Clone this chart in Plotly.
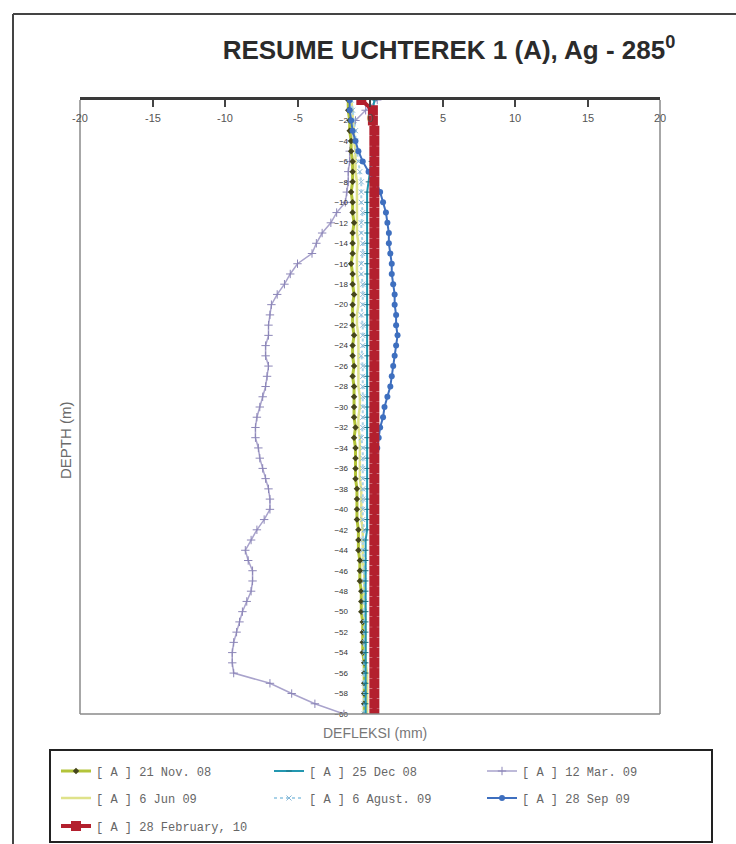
import plotly.graph_objects as go

depth = [0, -1, -2, -3, -4, -5, -6, -7, -8, -9,
         -10, -11, -12, -13, -14, -15, -16, -17, -18, -19,
         -20, -21, -22, -23, -24, -25, -26, -27, -28, -29,
         -30, -31, -32, -33, -34, -35, -36, -37, -38, -39,
         -40, -41, -42, -43, -44, -45, -46, -47, -48, -49,
         -50, -51, -52, -53, -54, -55, -56, -57, -58, -59, -60]

nov08 = [-1.5, -1.5, -1.4, -1.4, -1.3, -1.3, -1.2, -1.2, -1.2, -1.3,
         -1.2, -1.2, -1.1, -1.2, -1.2, -1.2, -1.3, -1.2, -1.2, -1.1,
         -1.2, -1.2, -1.2, -1.1, -1.2, -1.2, -1.1, -1.2, -1.1, -1.1,
         -1.1, -1.1, -1.0, -1.1, -1.0, -1.0, -1.0, -1.0, -0.9, -0.9,
         -0.9, -0.9, -0.8, -0.8, -0.8, -0.7, -0.7, -0.7, -0.6, -0.6,
         -0.6, -0.5, -0.5, -0.5, -0.5, -0.4, -0.4, -0.4, -0.4, -0.4, -0.4]

dec08 = [0.3, 0.2, 0.2, 0.2, 0.2, 0.2, 0.1, 0.0, -0.1, -0.2,
         -0.2, -0.2, -0.2, -0.2, -0.2, -0.2, -0.2, -0.2, -0.2, -0.2,
         -0.2, -0.2, -0.2, -0.2, -0.2, -0.2, -0.2, -0.2, -0.2, -0.2,
         -0.2, -0.2, -0.2, -0.2, -0.2, -0.2, -0.2, -0.2, -0.2, -0.2,
         -0.2, -0.2, -0.2, -0.3, -0.3, -0.3, -0.3, -0.3, -0.3, -0.3,
         -0.3, -0.3, -0.3, -0.3, -0.3, -0.3, -0.3, -0.3, -0.3, -0.3, -0.3]

mar09 = [0.5, -0.3, -1.0, -1.2, -1.3, -1.4, -1.4, -1.5, -1.5, -1.6,
         -1.7, -2.3, -2.7, -3.3, -3.7, -4.0, -5.0, -5.5, -5.9, -6.4,
         -6.8, -6.9, -7.0, -7.0, -7.2, -7.2, -7.0, -7.1, -7.2, -7.4,
         -7.6, -7.8, -7.9, -7.9, -7.7, -7.6, -7.4, -7.2, -7.0, -6.9,
         -6.9, -7.3, -7.8, -8.2, -8.6, -8.4, -8.1, -8.1, -8.2, -8.5,
         -8.8, -9.0, -9.2, -9.4, -9.5, -9.5, -9.4, -6.9, -5.4, -3.8, -1.8]

jun09 = [-1.3, -1.2, -1.2, -1.1, -1.1, -1.0, -1.0, -1.0, -0.9, -0.9,
         -0.9, -0.9, -0.9, -0.9, -0.8, -0.9, -0.9, -0.9, -0.8, -0.8,
         -0.8, -0.9, -0.9, -0.8, -0.8, -0.8, -0.8, -0.8, -0.8, -0.7,
         -0.7, -0.8, -0.8, -0.7, -0.7, -0.7, -0.7, -0.7, -0.6, -0.6,
         -0.6, -0.6, -0.5, -0.5, -0.5, -0.5, -0.4, -0.4, -0.4, -0.4,
         -0.3, -0.3, -0.3, -0.3, -0.3, -0.3, -0.2, -0.2, -0.2, -0.2, -0.2]

aug09 = [-1.3, -1.2, -1.1, -1.0, -1.0, -0.9, -0.8, -0.7, -0.6, -0.6,
         -0.6, -0.5, -0.6, -0.6, -0.5, -0.5, -0.6, -0.6, -0.5, -0.5,
         -0.5, -0.6, -0.5, -0.5, -0.5, -0.6, -0.5, -0.5, -0.5, -0.5,
         -0.5, -0.5, -0.5, -0.6, -0.5, -0.5, -0.5, -0.5, -0.5, -0.5,
         -0.5, -0.5, -0.4, -0.5, -0.5, -0.4, -0.4, -0.4, -0.4, -0.4,
         -0.4, -0.4, -0.4, -0.4, -0.4, -0.4, -0.4, -0.4, -0.4, -0.4, -0.4]

sep09 = [-1.4, -1.4, -1.3, -1.2, -1.0, -0.8, -0.5, -0.1, 0.4, 0.7,
         0.9, 1.1, 1.2, 1.3, 1.3, 1.4, 1.5, 1.5, 1.6, 1.7,
         1.7, 1.8, 1.8, 1.9, 1.8, 1.7, 1.6, 1.5, 1.4, 1.2,
         1.0, 0.9, 0.7, 0.6, 0.5, 0.4, 0.4, 0.4, 0.4, 0.4,
         0.4, 0.4, 0.4, 0.4, 0.4, 0.4, 0.4, 0.4, 0.4, 0.4,
         0.4, 0.4, 0.4, 0.4, 0.4, 0.4, 0.4, 0.4, 0.4, 0.4, 0.4]

feb10 = [-0.6, 0.2, 0.2, 0.3, 0.3, 0.3, 0.3, 0.3, 0.3, 0.3,
         0.3, 0.3, 0.3, 0.3, 0.3, 0.3, 0.3, 0.3, 0.3, 0.3,
         0.3, 0.3, 0.3, 0.3, 0.3, 0.3, 0.3, 0.3, 0.3, 0.3,
         0.3, 0.3, 0.3, 0.3, 0.3, 0.3, 0.3, 0.3, 0.3, 0.3,
         0.3, 0.3, 0.3, 0.3, 0.3, 0.3, 0.3, 0.3, 0.3, 0.3,
         0.3, 0.3, 0.3, 0.3, 0.3, 0.3, 0.3, 0.3, 0.3, 0.3, 0.3]

x_ticks = [-20, -15, -10, -5, 0, 5, 10, 15, 20]
x_tick_labels = ["-20", "-15", "-10", "-5", "0", "5", "10", "15", "20"]
y_ticks = [-2, -4, -6, -8, -10, -12, -14, -16, -18, -20, -22, -24, -26, -28, -30,
           -32, -34, -36, -38, -40, -42, -44, -46, -48, -50, -52, -54, -56, -58, -60]

fig = go.Figure()

# drawing order (z); legend rows/order set with legend + legendrank
fig.add_trace(go.Scatter(x=mar09, y=depth, name="[ A ] 12 Mar. 09", legend="legend", legendrank=3,
                         mode="lines+markers",
                         line=dict(color="#a9a3cc", width=1.5),
                         marker=dict(symbol="cross-thin", size=6,
                                     line=dict(color="#8c86b8", width=1))))
fig.add_trace(go.Scatter(x=jun09, y=depth, name="[ A ] 6 Jun 09", legend="legend2", legendrank=1,
                         mode="lines",
                         line=dict(color="#dfe28a", width=2.5)))
fig.add_trace(go.Scatter(x=nov08, y=depth, name="[ A ] 21 Nov. 08", legend="legend", legendrank=1,
                         mode="lines+markers",
                         line=dict(color="#b3c43a", width=3),
                         marker=dict(symbol="diamond", size=5, color="#45451c")))
fig.add_trace(go.Scatter(x=aug09, y=depth, name="[ A ] 6 Agust. 09", legend="legend2", legendrank=2,
                         mode="lines+markers",
                         line=dict(color="#a9d2e8", width=2, dash="dot"),
                         marker=dict(symbol="x-thin", size=5,
                                     line=dict(color="#86b6d6", width=1))))
fig.add_trace(go.Scatter(x=dec08, y=depth, name="[ A ] 25 Dec 08", legend="legend", legendrank=2,
                         mode="lines+markers",
                         line=dict(color="#2397b0", width=2),
                         marker=dict(symbol="line-ew", size=4,
                                     line=dict(color="#1a6e80", width=1))))
fig.add_trace(go.Scatter(x=sep09, y=depth, name="[ A ] 28 Sep 09", legend="legend2", legendrank=3,
                         mode="lines+markers",
                         line=dict(color="#3e6fbf", width=2),
                         marker=dict(symbol="circle", size=6, color="#3e6fbf")))
fig.add_trace(go.Scatter(x=feb10, y=depth, name="[ A ] 28 February, 10", legend="legend3", legendrank=1,
                         mode="lines+markers",
                         line=dict(color="#b3202e", width=4),
                         marker=dict(symbol="square", size=10, color="#b3202e")))

W, H = 736, 844
L, R, T, B = 80, 76, 100, 130
pw, ph = W - L - R, H - T - B


def px(xp):
    return (xp - L) / pw


def py(yp):
    return (H - B - yp) / ph


def legend_row(yc):
    return dict(orientation="h", x=px(56), y=py(yc), xanchor="left", yanchor="middle",
                xref="paper", yref="paper",
                entrywidth=168, entrywidthmode="pixels",
                font=dict(family="Liberation Mono", size=12, color="#666"),
                bgcolor="rgba(0,0,0,0)", traceorder="normal")


fig.update_layout(
    width=W, height=H,
    margin=dict(l=L, r=R, t=T, b=B, autoexpand=False),
    paper_bgcolor="white", plot_bgcolor="white",
    font=dict(family="Liberation Sans", color="#555"),
    title=dict(text="RESUME UCHTEREK 1 (A), Ag - 285<sup>0</sup>",
               x=449 / W, xanchor="center", xref="container",
               y=1 - 50 / H, yanchor="middle", yref="container",
               font=dict(family="Liberation Sans", size=26, color="#2b2b2b", weight="bold")),
    xaxis=dict(range=[-20, 20], side="top", tickvals=x_ticks, showticklabels=False,
               ticks="inside", ticklen=7, tickwidth=2, tickcolor="#444",
               showline=True, linecolor="#3a3a3a", linewidth=3,
               showgrid=False, zeroline=False, fixedrange=True),
    yaxis=dict(range=[-60, 0], anchor="free", position=0.5, tickvals=y_ticks,
               ticks="", showline=False, showgrid=False, zeroline=False,
               tickfont=dict(size=8, color="#333"), ticklabelstandoff=22),
    legend=legend_row(771),
    legend2=legend_row(798),
    legend3=legend_row(826),
    showlegend=True,
)

shapes = [
    dict(type="line", xref="paper", yref="paper", x0=0, x1=0, y0=0, y1=1,
         line=dict(color="#8a8a8a", width=1.5)),
    dict(type="line", xref="paper", yref="paper", x0=1, x1=1, y0=0, y1=1,
         line=dict(color="#8a8a8a", width=1.5)),
    dict(type="line", xref="paper", yref="paper", x0=0, x1=1, y0=0, y1=0,
         line=dict(color="#8a8a8a", width=1.5)),
    dict(type="line", xref="paper", yref="paper", x0=px(13), x1=px(13), y0=py(14), y1=py(850),
         line=dict(color="#444", width=2)),
    dict(type="line", xref="paper", yref="paper", x0=px(13), x1=px(740), y0=py(14), y1=py(14),
         line=dict(color="#444", width=2)),
    dict(type="rect", xref="paper", yref="paper", x0=px(50), x1=px(712), y0=py(750), y1=py(842),
         line=dict(color="#222", width=2)),
]
fig.update_layout(shapes=shapes)

for v, lab in zip(x_ticks, x_tick_labels):
    fig.add_annotation(text=lab, xref="x", yref="paper", x=v, y=py(118),
                       showarrow=False, xanchor="center", yanchor="middle",
                       font=dict(size=11, color="#555"))

fig.add_annotation(text="DEFLEKSI (mm)", xref="paper", yref="paper", x=px(375), y=py(733),
                   showarrow=False, xanchor="center", yanchor="middle",
                   font=dict(size=14, color="#777"))
fig.add_annotation(text="DEPTH (m)", xref="paper", yref="paper", x=px(65), y=py(440),
                   showarrow=False, xanchor="center", yanchor="middle", textangle=-90,
                   font=dict(size=15, color="#6a6a6a"))

fig.write_html("out.html")
